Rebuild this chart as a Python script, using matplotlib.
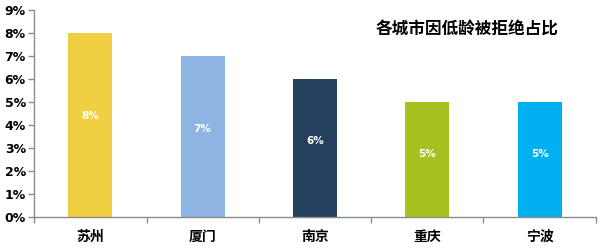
import numpy as np
import matplotlib.pyplot as plt
from matplotlib.ticker import FuncFormatter

plt.rcParams["font.family"] = ["Noto Sans CJK SC", "DejaVu Sans"]

cities = ["苏州", "厦门", "南京", "重庆", "宁波"]
rates = [8, 7, 6, 5, 5]
bar_colors = ["#F0CF43", "#8EB4E3", "#253F5F", "#A6C21E", "#00B0F0"]
title = "各城市因低龄被拒绝占比"

fig = plt.figure(figsize=(6, 2.49), dpi=100)
ax = fig.add_axes([0.057, 0.128, 0.936, 0.832])

x = np.arange(len(cities))
ax.bar(x, rates, width=0.39, color=bar_colors, zorder=2)

for xi, v in zip(x, rates):
    ax.text(xi, v * 0.55, f"{v}%", ha="center", va="center", color="white",
            fontsize=7.5, fontweight="bold", family="DejaVu Sans")

ax.set_xlim(-0.5, len(cities) - 0.5)
ax.set_ylim(0, 9)
ax.set_yticks(range(0, 10))
ax.yaxis.set_major_formatter(FuncFormatter(lambda v, p: f"{int(v)}%"))

# category labels centered, ticks between categories
ax.set_xticks(x)
ax.set_xticklabels(cities, fontsize=10, fontweight="bold")
ax.tick_params(axis="x", which="major", length=0, pad=9)
ax.set_xticks(np.arange(-0.5, len(cities)), minor=True)
ax.tick_params(axis="x", which="minor", length=4, color="#8c8c8c", width=1)
ax.tick_params(axis="y", length=4, color="#8c8c8c", width=1, labelsize=9, pad=2)
for lbl in ax.get_yticklabels():
    lbl.set_fontweight("bold")
    lbl.set_family("DejaVu Sans")

for side in ["top", "right"]:
    ax.spines[side].set_visible(False)
for side in ["left", "bottom"]:
    ax.spines[side].set_color("#8c8c8c")
    ax.spines[side].set_linewidth(1)

fig.text(0.778, 0.88, title, ha="center", va="center", fontsize=12, fontweight="bold")

fig.savefig("out.png", dpi=100)
